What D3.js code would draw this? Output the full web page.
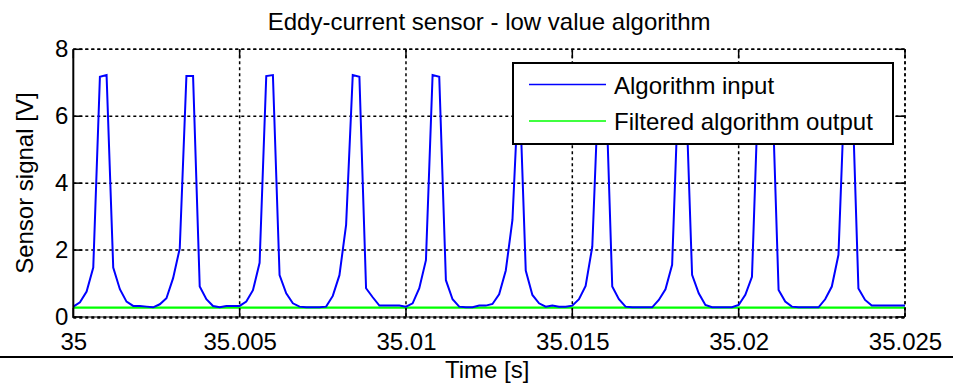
<!DOCTYPE html>
<html>
<head>
<meta charset="utf-8">
<script src="https://cdn.jsdelivr.net/npm/d3@7"></script>
<style>
  html, body { margin: 0; padding: 0; background: #fff; }
  svg { display: block; font-family: Arial, "Liberation Sans", sans-serif; }
</style>
</head>
<body>
<svg id="chart" width="953" height="384"></svg>
<script>
// ---- data ----
const titleText = "Eddy-current sensor - low value algorithm";
const xLabelText = "Time [s]";
const yLabelText = "Sensor signal [V]";
const seriesNames = ["Algorithm input", "Filtered algorithm output"];
const seriesColors = ["#0000ff", "#00ff00"];

const xTickValues = [35, 35.005, 35.01, 35.015, 35.02, 35.025];
const xTickLabels = ["35", "35.005", "35.01", "35.015", "35.02", "35.025"];
const yTickValues = [0, 2, 4, 6, 8];
const yTickLabels = ["0", "2", "4", "6", "8"];

// Algorithm input: sampled every 0.0002 s starting at 35 s
const inputStart = 35;
const inputStep = 0.0002;
const inputValues = [
  0.31, 0.44, 0.76, 1.48, 7.18, 7.23, 1.48, 0.83, 0.46, 0.33,
  0.33, 0.31, 0.29, 0.38, 0.56, 1.16, 2.05, 7.20, 7.20, 0.91,
  0.53, 0.33, 0.29, 0.33, 0.33, 0.33, 0.46, 0.80, 1.62, 7.20,
  7.23, 1.25, 0.71, 0.41, 0.31, 0.29, 0.29, 0.29, 0.31, 0.63,
  1.25, 2.75, 7.23, 7.18, 0.86, 0.59, 0.34, 0.34, 0.34, 0.34,
  0.31, 0.41, 0.86, 1.70, 7.23, 7.18, 1.10, 0.53, 0.31, 0.29,
  0.29, 0.34, 0.34, 0.39, 0.68, 1.39, 2.90, 7.20, 1.39, 0.66,
  0.41, 0.31, 0.34, 0.31, 0.31, 0.34, 0.53, 0.93, 2.10, 7.20,
  7.20, 0.91, 0.53, 0.31, 0.29, 0.29, 0.29, 0.29, 0.51, 0.83,
  1.56, 7.20, 7.20, 1.26, 0.71, 0.36, 0.29, 0.29, 0.29, 0.29,
  0.36, 0.66, 1.20, 7.10, 7.20, 7.10, 0.81, 0.46, 0.31, 0.29,
  0.29, 0.29, 0.29, 0.53, 0.91, 1.86, 7.20, 7.20, 0.85, 0.51,
  0.34, 0.34, 0.34, 0.34, 0.34, 0.34
];

// Filtered algorithm output
const outputTimes = [35, 35.025];
const outputValues = [0.28, 0.28];

// ---- layout ----
const svg = d3.select("#chart");
const W = 953, H = 384;
const plot = { left: 73.3, right: 905, top: 49.3, bottom: 317 };
const FONT = 24;

const x = d3.scaleLinear().domain([35, 35.025]).range([plot.left, plot.right]);
const y = d3.scaleLinear().domain([0, 8]).range([plot.bottom, plot.top]);

const inputData = inputValues.map((v, i) => ({ t: inputStart + i * inputStep, v }));
const outputData = outputValues.map((v, i) => ({ t: outputTimes[i], v }));

// ---- grid ----
const grid = svg.append("g").attr("class", "grid");
const dash = "3,3";
grid.selectAll("line.vg").data(xTickValues.slice(1))
  .join("line")
  .attr("x1", d => x(d)).attr("x2", d => x(d))
  .attr("y1", plot.top).attr("y2", plot.bottom)
  .attr("stroke", "#000").attr("stroke-width", 1.5)
  .attr("stroke-dasharray", dash);
grid.selectAll("line.hg").data(yTickValues.slice(1))
  .join("line")
  .attr("x1", plot.left).attr("x2", plot.right)
  .attr("y1", d => y(d)).attr("y2", d => y(d))
  .attr("stroke", "#000").attr("stroke-width", 1.5)
  .attr("stroke-dasharray", dash);

// ---- data lines ----
const line = d3.line().x(d => x(d.t)).y(d => y(d.v));
svg.append("path").datum(outputData)
  .attr("d", line).attr("fill", "none")
  .attr("stroke", seriesColors[1]).attr("stroke-width", 2.2);
svg.append("path").datum(inputData)
  .attr("d", line).attr("fill", "none")
  .attr("stroke", seriesColors[0]).attr("stroke-width", 2)
  .attr("stroke-linejoin", "miter");

// ---- axes ----
const xAxis = d3.axisBottom(x).tickValues(xTickValues)
  .tickFormat((d, i) => xTickLabels[i]).tickSize(0).tickPadding(16);
const gx = svg.append("g").attr("transform", `translate(0,${plot.bottom})`).call(xAxis);
gx.select(".domain").remove();
gx.selectAll("text").attr("font-size", FONT).attr("fill", "#000")
  .attr("font-family", "Arial, 'Liberation Sans', sans-serif");

const yAxis = d3.axisLeft(y).tickValues(yTickValues)
  .tickFormat((d, i) => yTickLabels[i]).tickSize(0).tickPadding(5);
const gy = svg.append("g").attr("transform", `translate(${plot.left},0)`).call(yAxis);
gy.select(".domain").remove();
gy.selectAll("text").attr("font-size", FONT).attr("fill", "#000")
  .attr("font-family", "Arial, 'Liberation Sans', sans-serif");

// tick marks (inside, all four sides)
const tickLen = 9;
const ticks = svg.append("g");
ticks.selectAll("line.xb").data(xTickValues).join("line")
  .attr("x1", d => x(d)).attr("x2", d => x(d))
  .attr("y1", plot.bottom).attr("y2", plot.bottom - tickLen)
  .attr("stroke", "#000").attr("stroke-width", 1.5);
ticks.selectAll("line.xt").data(xTickValues).join("line")
  .attr("x1", d => x(d)).attr("x2", d => x(d))
  .attr("y1", plot.top).attr("y2", plot.top + tickLen)
  .attr("stroke", "#000").attr("stroke-width", 1.5);
ticks.selectAll("line.yl").data(yTickValues).join("line")
  .attr("x1", plot.left).attr("x2", plot.left + tickLen)
  .attr("y1", d => y(d)).attr("y2", d => y(d))
  .attr("stroke", "#000").attr("stroke-width", 1.5);
ticks.selectAll("line.yr").data(yTickValues).join("line")
  .attr("x1", plot.right).attr("x2", plot.right - tickLen)
  .attr("y1", d => y(d)).attr("y2", d => y(d))
  .attr("stroke", "#000").attr("stroke-width", 1.5);

// box: left solid, bottom solid+dotted, top & right dotted
svg.append("line")
  .attr("x1", plot.left).attr("x2", plot.left)
  .attr("y1", plot.top).attr("y2", plot.bottom + 1)
  .attr("stroke", "#000").attr("stroke-width", 2);
svg.append("line")
  .attr("x1", plot.left).attr("x2", plot.right)
  .attr("y1", plot.bottom).attr("y2", plot.bottom)
  .attr("stroke", "#000").attr("stroke-width", 1);
svg.append("line")
  .attr("x1", plot.left).attr("x2", plot.right)
  .attr("y1", plot.bottom + 0.5).attr("y2", plot.bottom + 0.5)
  .attr("stroke", "#000").attr("stroke-width", 2.5).attr("stroke-dasharray", dash);
svg.append("line")
  .attr("x1", plot.left).attr("x2", plot.right)
  .attr("y1", plot.top).attr("y2", plot.top)
  .attr("stroke", "#000").attr("stroke-width", 1.5).attr("stroke-dasharray", dash);
svg.append("line")
  .attr("x1", plot.right).attr("x2", plot.right)
  .attr("y1", plot.top).attr("y2", plot.bottom)
  .attr("stroke", "#000").attr("stroke-width", 1.5).attr("stroke-dasharray", dash);

// ---- titles ----
svg.append("text").attr("x", (plot.left + plot.right) / 2).attr("y", 30)
  .attr("text-anchor", "middle").attr("font-size", FONT).attr("fill", "#000")
  .text(titleText);
svg.append("text").attr("x", (plot.left + plot.right) / 2 - 2).attr("y", 378)
  .attr("text-anchor", "middle").attr("font-size", FONT).attr("fill", "#000")
  .text(xLabelText);
svg.append("text")
  .attr("transform", `translate(33,${(plot.top + plot.bottom) / 2}) rotate(-90)`)
  .attr("text-anchor", "middle").attr("font-size", FONT).attr("fill", "#000")
  .text(yLabelText);

// bottom separator line
svg.append("line").attr("x1", 0).attr("x2", W).attr("y1", 357).attr("y2", 357)
  .attr("stroke", "#000").attr("stroke-width", 2);

// ---- legend ----
const leg = { x: 513, y: 63, w: 380, h: 81 };
const lg = svg.append("g");
lg.append("rect").attr("x", leg.x).attr("y", leg.y).attr("width", leg.w).attr("height", leg.h)
  .attr("fill", "#fff").attr("stroke", "#000").attr("stroke-width", 2);
const rowsY = [84.5, 121];
seriesNames.forEach((name, i) => {
  lg.append("line").attr("x1", 529).attr("x2", 606)
    .attr("y1", rowsY[i]).attr("y2", rowsY[i])
    .attr("stroke", seriesColors[i]).attr("stroke-width", 1.5);
  lg.append("text").attr("x", 614).attr("y", rowsY[i] + 9)
    .attr("font-size", FONT).attr("fill", "#000").text(name);
});
</script>
</body>
</html>
